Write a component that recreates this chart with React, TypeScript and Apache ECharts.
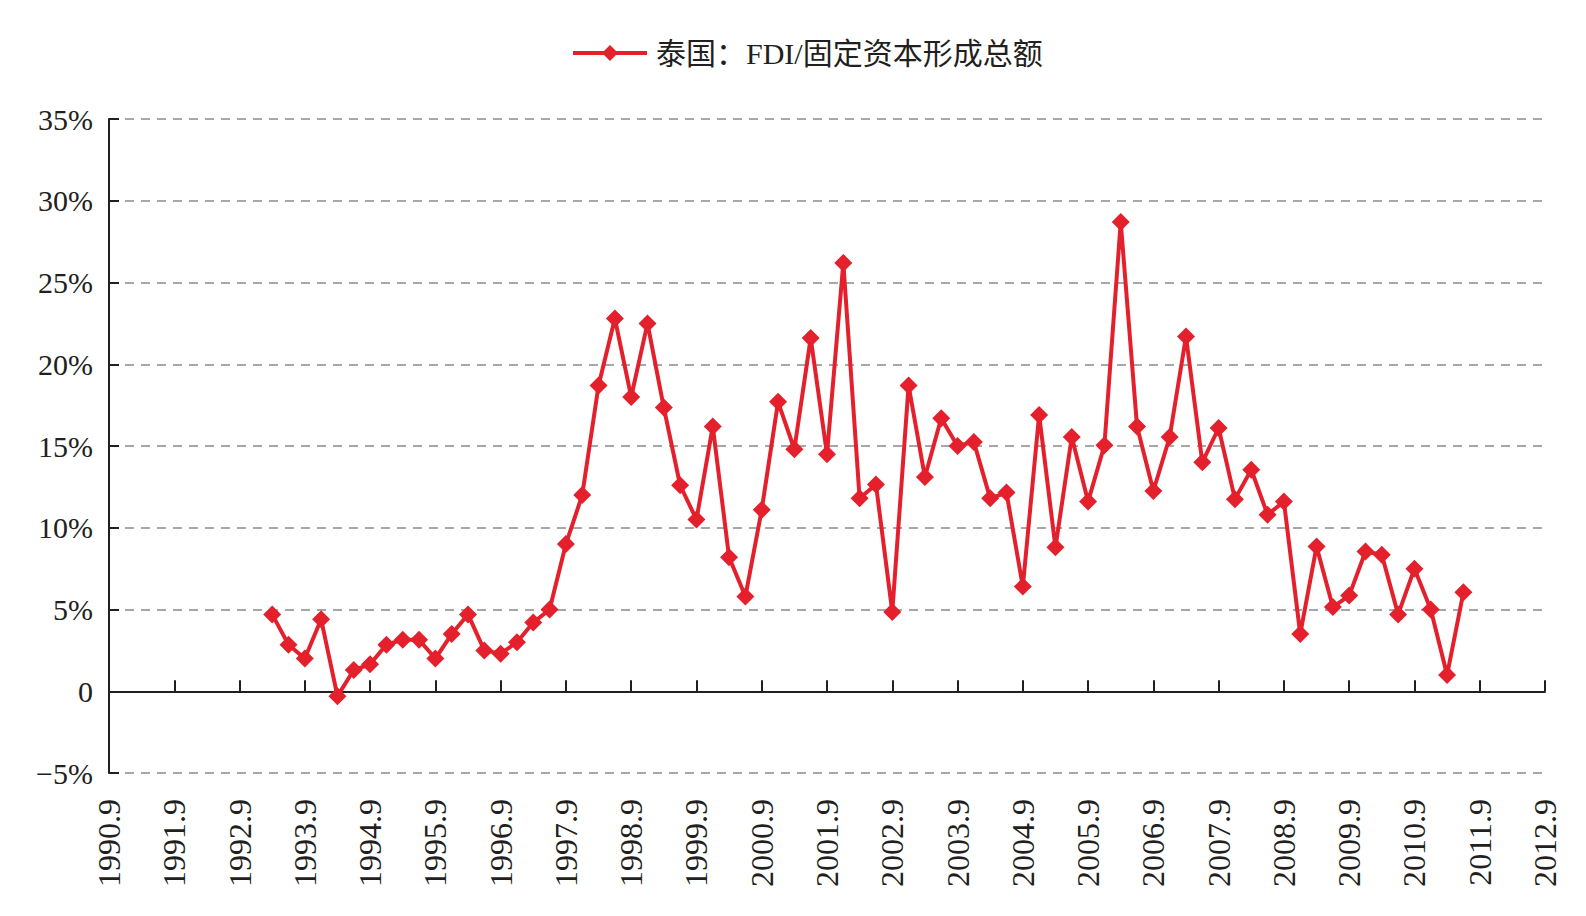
import React, { useEffect, useRef } from "react";
import * as echarts from "echarts";

// Quarterly categories from 1990.9 to 2012.9 (labels shown every 4th)
const years = [1990, 1991, 1992, 1993, 1994, 1995, 1996, 1997, 1998, 1999, 2000, 2001, 2002, 2003, 2004, 2005, 2006, 2007, 2008, 2009, 2010, 2011, 2012];
const months = [9, 12, 3, 6];
const categories: string[] = [];
years.forEach((y, i) => {
  months.forEach((m, j) => {
    if (i === years.length - 1 && j > 0) return;
    const yr = j >= 2 ? y + 1 : y;
    categories.push(`${yr}.${m}`);
  });
});

const seriesName = "泰国：FDI/固定资本形成总额";
const firstCategory = "1993.3";
// FDI / gross fixed capital formation (%), quarterly from 1993.3 to 2011.6
const values = [
  4.7, 2.85, 2.0, 4.4, -0.3, 1.3, 1.65, 2.85, 3.15, 3.15,
  2.0, 3.5, 4.7, 2.5, 2.3, 3.0, 4.2, 5.0, 9.0, 12.0,
  18.7, 22.8, 18.0, 22.5, 17.35, 12.6, 10.5, 16.2, 8.2, 5.8,
  11.1, 17.7, 14.8, 21.6, 14.5, 26.2, 11.8, 12.65, 4.85, 18.7,
  13.1, 16.7, 15.0, 15.25, 11.8, 12.15, 6.4, 16.9, 8.8, 15.55,
  11.6, 15.05, 28.7, 16.2, 12.25, 15.55, 21.7, 14.0, 16.1, 11.75,
  13.55, 10.8, 11.6, 3.5, 8.85, 5.15, 5.85, 8.55, 8.35, 4.7,
  7.5, 5.0, 1.0, 6.05,
];

const yMin = -5;
const yMax = 35;
const yStep = 5;

const FONT = "'Liberation Serif', 'Noto Sans CJK SC', serif";
const RED = "#E4202C";
const INK = "#231f20";

export default function App() {
  const ref = useRef<HTMLDivElement>(null);
  useEffect(() => {
    if (!ref.current) return;
    const chart = echarts.init(ref.current, undefined, { renderer: "svg" });
    const startIdx = categories.indexOf(firstCategory);
    const data: (number | null)[] = categories.map((_, i) => {
      const k = i - startIdx;
      return k >= 0 && k < values.length ? values[k] : null;
    });
    chart.setOption({
      animation: false,
      backgroundColor: "#ffffff",
      legend: {
        top: 33,
        left: 566,
        itemWidth: 74,
        itemHeight: 20,
        lineStyle: { width: 4 },
        textStyle: { fontFamily: FONT, fontSize: 30, color: INK, padding: [0, 0, 0, 4] },
        data: [seriesName],
      },
      grid: { left: 109, right: 41, top: 119, bottom: 143, containLabel: false },
      xAxis: [
        {
          type: "category",
          data: categories,
          boundaryGap: false,
          position: "bottom",
          axisLine: { show: false, onZero: false },
          axisTick: { show: false },
          axisLabel: {
            interval: 3,
            rotate: 90,
            margin: 26,
            fontFamily: FONT,
            fontSize: 32,
            color: INK,
          },
          splitLine: { show: false },
        },
        {
          type: "category",
          data: categories,
          boundaryGap: false,
          position: "bottom",
          axisLine: { show: true, onZero: true, lineStyle: { color: INK, width: 2 } },
          axisTick: { show: true, inside: true, interval: 3, length: 11, lineStyle: { color: INK, width: 2 } },
          axisLabel: { show: false },
          splitLine: { show: false },
        },
      ],
      yAxis: {
        type: "value",
        min: yMin,
        max: yMax,
        interval: yStep,
        axisLine: { show: true, lineStyle: { color: INK, width: 2 } },
        axisTick: { show: true, inside: true, length: 10, lineStyle: { color: INK, width: 2 } },
        axisLabel: {
          margin: 16,
          fontFamily: FONT,
          fontSize: 30,
          color: INK,
          formatter: (v: number) => (v === 0 ? "0" : v < 0 ? `\u2212${Math.abs(v)}%` : `${v}%`),
        },
        splitLine: { show: true, lineStyle: { color: "#8a8a8a", width: 1.5, type: [9, 7] } },
      },
      series: [
        {
          name: seriesName,
          type: "line",
          xAxisIndex: 0,
          data,
          symbol: "diamond",
          symbolSize: 18,
          showAllSymbol: true,
          lineStyle: { color: RED, width: 4 },
          itemStyle: { color: RED },
          connectNulls: false,
          z: 5,
        },
      ],
    });
    return () => chart.dispose();
  }, []);
  return (
    <div
      ref={ref}
      style={{ position: "fixed", left: 0, top: 0, width: 1586, height: 916, background: "#fff" }}
    />
  );
}
